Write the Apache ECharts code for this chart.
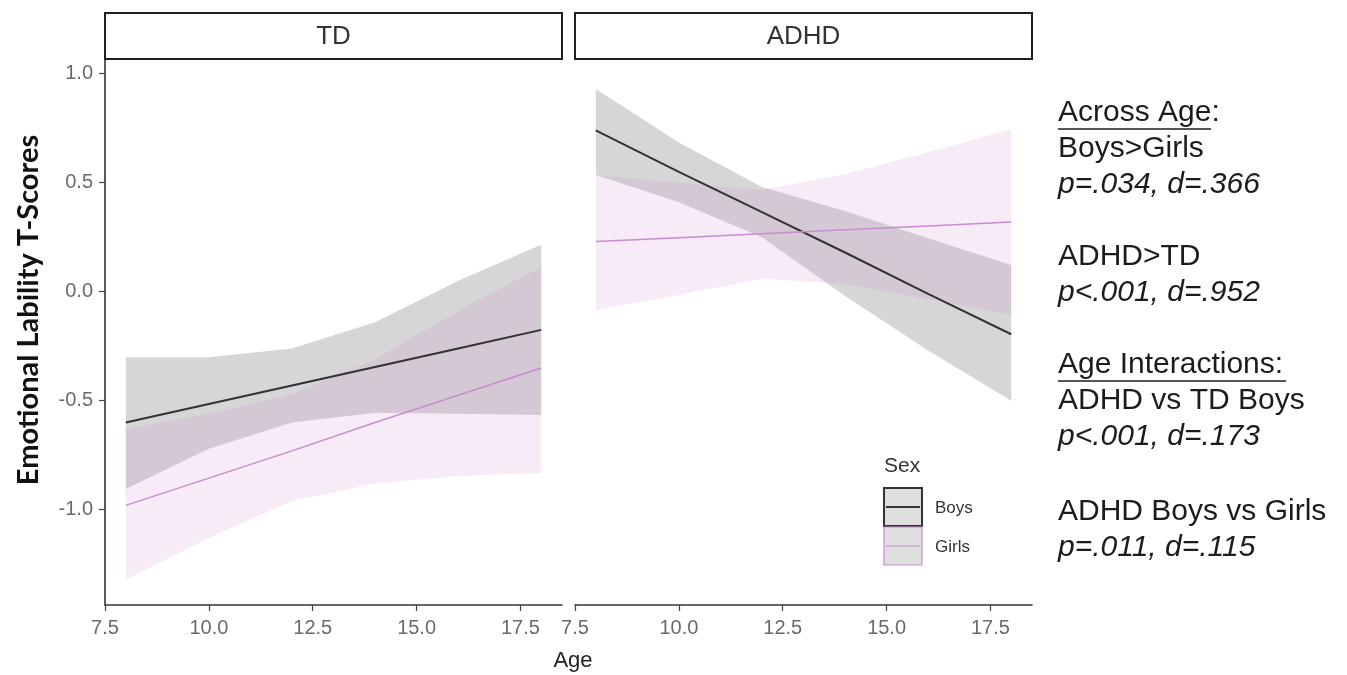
<!DOCTYPE html>
<html>
<head>
<meta charset="utf-8">
<title>Emotional Lability by Age</title>
<script src="https://cdn.jsdelivr.net/npm/echarts@6/dist/echarts.min.js"></script>
<style>
html, body { margin: 0; padding: 0; background: #fff; }
#chart { width: 1347px; height: 675px; }
</style>
</head>
<body>
<div id="chart"></div>
<script>
var ages = [8, 10, 12, 14, 16, 18];
var xTicks = [7.5, 10, 12.5, 15, 17.5];
var yTicks = [-1, -0.5, 0, 0.5, 1];
var panels = ['TD', 'ADHD'];
var sexes = ['Boys', 'Girls'];

// TD panel
var tdBoysFit = [-0.60, -0.515, -0.43, -0.345, -0.26, -0.175];
var tdBoysHi = [-0.30, -0.30, -0.26, -0.14, 0.05, 0.215];
var tdBoysLo = [-0.905, -0.72, -0.60, -0.555, -0.56, -0.565];
var tdGirlsFit = [-0.98, -0.855, -0.73, -0.60, -0.475, -0.35];
var tdGirlsHi = [-0.63, -0.56, -0.47, -0.31, -0.09, 0.115];
var tdGirlsLo = [-1.32, -1.13, -0.96, -0.88, -0.845, -0.83];

// ADHD panel
var adhdBoysFit = [0.74, 0.55, 0.365, 0.18, -0.01, -0.195];
var adhdBoysHi = [0.93, 0.685, 0.48, 0.37, 0.245, 0.123];
var adhdBoysLo = [0.535, 0.41, 0.25, -0.02, -0.27, -0.50];
var adhdGirlsFit = [0.23, 0.248, 0.266, 0.284, 0.302, 0.32];
var adhdGirlsHi = [0.535, 0.50, 0.467, 0.54, 0.64, 0.745];
var adhdGirlsLo = [-0.085, -0.015, 0.06, 0.035, -0.035, -0.105];

// right-hand notes, '*' marks italic lines
var notes = [
  'Across Age:', 'Boys>Girls', '*p=.034, d=.366',
  'ADHD>TD', '*p<.001, d=.952',
  'Age Interactions:', 'ADHD vs TD Boys', '*p<.001, d=.173',
  'ADHD Boys vs Girls', '*p=.011, d=.115'
];
var noteY = [113, 149, 185, 257, 293, 365, 401, 437, 512, 548];

var boysLine = '#333333';
var girlsLine = '#c98bd1';
var boysFill = 'rgba(153,153,153,0.4)';
var girlsFill = 'rgba(204,121,204,0.15)';

var chart = echarts.init(document.getElementById('chart'));

var gridTop = 60, gridH = 545, gridW = 457;
var gridLeft = [105, 575];

function ribbon(idx, lo, hi, color) {
  return {
    type: 'custom',
    xAxisIndex: idx,
    yAxisIndex: idx,
    z: 1,
    silent: true,
    data: ages.map(function (a, i) { return [a, lo[i], hi[i]]; }),
    encode: { x: 0, y: [1, 2] },
    renderItem: function (params, api) {
      if (params.dataIndex !== 0) return null;
      var pts = [];
      for (var i = 0; i < ages.length; i++) pts.push(api.coord([ages[i], hi[i]]));
      for (var j = ages.length - 1; j >= 0; j--) pts.push(api.coord([ages[j], lo[j]]));
      return { type: 'polygon', shape: { points: pts }, style: { fill: color } };
    }
  };
}

function fit(idx, vals, color, width) {
  return {
    type: 'line',
    xAxisIndex: idx,
    yAxisIndex: idx,
    z: 3,
    silent: true,
    symbol: 'none',
    data: ages.map(function (a, i) { return [a, vals[i]]; }),
    lineStyle: { color: color, width: width }
  };
}

function xAxis(idx) {
  return {
    type: 'value',
    gridIndex: idx,
    min: 7.5,
    max: 18.5,
    splitLine: { show: false },
    axisLine: { show: true, onZero: false, lineStyle: { color: '#333', width: 1.6 } },
    axisTick: { show: true, customValues: xTicks, length: 6, lineStyle: { color: '#444', width: 1.2 } },
    axisLabel: {
      customValues: xTicks,
      formatter: function (v) { return v.toFixed(1); },
      color: '#6a6a6a', fontSize: 20, fontFamily: 'Liberation Sans', margin: 13
    }
  };
}

function yAxis(idx) {
  var show = idx === 0;
  return {
    type: 'value',
    gridIndex: idx,
    min: -1.437,
    max: 1.063,
    splitLine: { show: false },
    axisLine: { show: show, onZero: false, lineStyle: { color: '#333', width: 1.6 } },
    axisTick: { show: show, customValues: yTicks, length: 6, lineStyle: { color: '#444', width: 1.2 } },
    axisLabel: {
      show: show,
      customValues: yTicks,
      formatter: function (v) { return v.toFixed(1); },
      color: '#6a6a6a', fontSize: 20, fontFamily: 'Liberation Sans', margin: 12
    }
  };
}

var graphics = [];

// facet strips
panels.forEach(function (p, i) {
  graphics.push({
    type: 'rect',
    shape: { x: gridLeft[i], y: 13, width: gridW, height: 46 },
    style: { fill: '#fff', stroke: '#1e1e1e', lineWidth: 2 }
  });
  graphics.push({
    type: 'text', x: gridLeft[i] + gridW / 2, y: 37,
    style: { text: p, fontSize: 26, fontFamily: 'Liberation Sans', fill: '#333', align: 'center', verticalAlign: 'middle' }
  });
});

// axis titles
graphics.push({
  type: 'text', x: 29, y: 310, rotation: Math.PI / 2,
  style: { text: 'Emotional Lability T-Scores', fontSize: 29, fontWeight: 'bold', fontFamily: 'Lato', fill: '#111', align: 'center', verticalAlign: 'middle' }
});
graphics.push({
  type: 'text', x: 573, y: 661,
  style: { text: 'Age', fontSize: 22, fontFamily: 'Liberation Sans', fill: '#222', align: 'center', verticalAlign: 'middle' }
});

// legend
graphics.push({
  type: 'text', x: 884, y: 466,
  style: { text: 'Sex', fontSize: 21, fontFamily: 'Liberation Sans', fill: '#333', verticalAlign: 'middle' }
});
[[boysLine, 2, 488], [girlsLine, 1.2, 527]].forEach(function (k, i) {
  graphics.push({
    type: 'rect', shape: { x: 884, y: k[2], width: 38, height: 38 },
    style: { fill: '#dedede', stroke: k[0], lineWidth: k[1] }
  });
  graphics.push({
    type: 'line', shape: { x1: 886, y1: k[2] + 19, x2: 920, y2: k[2] + 19 },
    style: { stroke: k[0], lineWidth: k[1] }
  });
  graphics.push({
    type: 'text', x: 935, y: k[2] + 20,
    style: { text: sexes[i], fontSize: 17, fontFamily: 'Liberation Sans', fill: '#333', verticalAlign: 'middle' }
  });
});

// annotations at right
notes.forEach(function (n, i) {
  var italic = n.charAt(0) === '*';
  graphics.push({
    type: 'text', x: 1058, y: noteY[i],
    style: {
      text: italic ? n.slice(1) : n, fontSize: 30, fontStyle: italic ? 'italic' : 'normal',
      fontFamily: 'Liberation Sans', fill: '#1c1c1c', verticalAlign: 'middle'
    }
  });
});
graphics.push({ type: 'line', shape: { x1: 1058, y1: 129, x2: 1211, y2: 129 }, style: { stroke: '#1c1c1c', lineWidth: 1.6 } });
graphics.push({ type: 'line', shape: { x1: 1058, y1: 381, x2: 1286, y2: 381 }, style: { stroke: '#1c1c1c', lineWidth: 1.6 } });

var option = {
  backgroundColor: '#fff',
  animation: false,
  grid: gridLeft.map(function (l) {
    return { left: l, top: gridTop, width: gridW, height: gridH, containLabel: false };
  }),
  xAxis: [xAxis(0), xAxis(1)],
  yAxis: [yAxis(0), yAxis(1)],
  series: [
    ribbon(0, tdBoysLo, tdBoysHi, boysFill),
    ribbon(0, tdGirlsLo, tdGirlsHi, girlsFill),
    ribbon(1, adhdBoysLo, adhdBoysHi, boysFill),
    ribbon(1, adhdGirlsLo, adhdGirlsHi, girlsFill),
    fit(0, tdBoysFit, boysLine, 2),
    fit(0, tdGirlsFit, girlsLine, 1.5),
    fit(1, adhdBoysFit, boysLine, 2),
    fit(1, adhdGirlsFit, girlsLine, 1.5)
  ],
  graphic: graphics
};

chart.setOption(option);
window.onresize = function () {
  chart.resize();
};
</script>
</body>
</html>
